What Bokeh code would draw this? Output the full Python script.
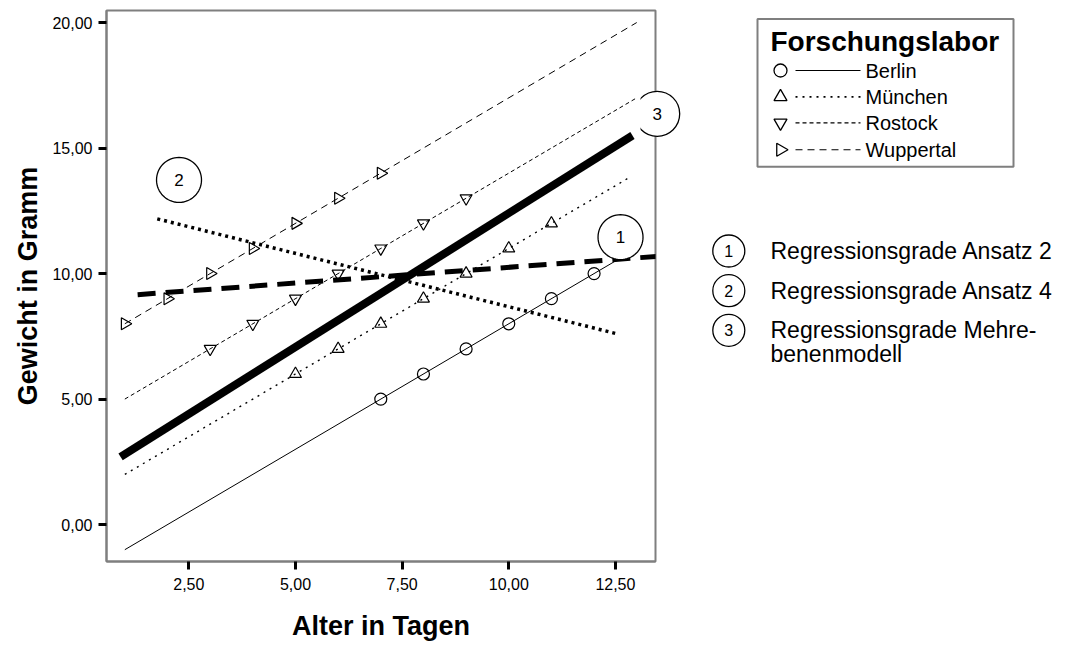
import math

from bokeh.core.properties import value
from bokeh.embed import file_html
from bokeh.layouts import row
from bokeh.models import CustomJSTickFormatter, FixedTicker, Label, PolyAnnotation, Range1d
from bokeh.plotting import figure
from bokeh.resources import INLINE

# ---- observations per research lab: age in days, weight in gram ----
berlin_age = [7, 8, 9, 10, 11, 12]
berlin_weight = [5, 6, 7, 8, 9, 10]
muenchen_age = [5, 6, 7, 8, 9, 10, 11]
muenchen_weight = [6, 7, 8, 9, 10, 11, 12]
rostock_age = [3, 4, 5, 6, 7, 8, 9]
rostock_weight = [7, 8, 9, 10, 11, 12, 13]
wuppertal_age = [1, 2, 3, 4, 5, 6, 7]
wuppertal_weight = [8, 9, 10, 11, 12, 13, 14]

# ---- fitted line of every lab (start / end) ----
berlin_fit_x = [1, 13]
berlin_fit_y = [-1, 11]
muenchen_fit_x = [1, 12.85]
muenchen_fit_y = [2, 13.85]
rostock_fit_x = [1, 13]
rostock_fit_y = [5, 17]
wuppertal_fit_x = [1, 13]
wuppertal_fit_y = [8, 20]

# ---- pooled regression lines (start / end) ----
ansatz2_x = [1.3, 13.6]
ansatz2_y = [9.16, 10.70]
ansatz4_x = [1.76, 12.54]
ansatz4_y = [12.18, 7.6]
mehrebenen_x = [0.9, 12.9]
mehrebenen_y = [2.7, 15.5]

# ---- tick positions ----
x_ticks = [2.5, 5.0, 7.5, 10.0, 12.5]
y_ticks = [0.0, 5.0, 10.0, 15.0, 20.0]

# ---- labels ----
lab_names = ["Berlin", "München", "Rostock", "Wuppertal"]
lab_markers = ["circle", "triangle", "inverted_triangle", "triangle"]
lab_angles = [0.0, 0.0, 0.0, -math.pi / 2]
lab_dashes = ["solid", "2 5", "4 3", "7 5"]
lab_widths = [1.0, 1.4, 1.0, 1.0]
note_numbers = ["1", "2", "3"]
note_texts = [
    ["Regressionsgrade Ansatz 2"],
    ["Regressionsgrade Ansatz 4"],
    ["Regressionsgrade Mehre-", "benenmodell"],
]
# numbered circles inside the chart (age, weight)
note_x = [12.62, 2.27]
note_y = [11.45, 13.73]

FONT = "Liberation Sans"
GREY = "#7f7f7f"

# ------------------------------------------------------------------ main chart
p = figure(
    width=700, height=649,
    x_range=Range1d(0.57, 13.44), y_range=Range1d(-1.47, 20.48),
    output_backend="svg", toolbar_location=None,
    min_border_left=106, min_border_right=45, min_border_top=10, min_border_bottom=88,
)
p.xgrid.visible = False
p.ygrid.visible = False
p.outline_line_color = GREY
p.outline_line_width = 2
p.background_fill_color = "white"
p.border_fill_color = "white"

fmt = CustomJSTickFormatter(code="return tick.toFixed(2).replace('.', ',');")
p.xaxis.ticker = FixedTicker(ticks=x_ticks)
p.yaxis.ticker = FixedTicker(ticks=y_ticks)
for ax in (p.xaxis, p.yaxis):
    ax.formatter = fmt
    ax.axis_line_color = GREY
    ax.axis_line_width = 2
    ax.major_tick_in = 0
    ax.major_tick_out = 8
    ax.major_tick_line_width = 3
    ax.major_tick_line_color = "black"
    ax.minor_tick_in = 0
    ax.minor_tick_out = 0
    ax.major_label_text_font = FONT
    ax.major_label_text_font_size = "16px"
    ax.major_label_text_color = "black"
    ax.axis_label_text_font = FONT
    ax.axis_label_text_font_size = "27px"
    ax.axis_label_text_font_style = "bold"
    ax.axis_label_text_color = "black"
p.xaxis.axis_label = "Alter in Tagen"
p.yaxis.axis_label = "Gewicht in Gramm"
p.xaxis.major_label_standoff = 8
p.xaxis.axis_label_standoff = 18
p.yaxis.major_label_standoff = 6
p.yaxis.axis_label_standoff = 6

# lab lines
fits = [
    (berlin_fit_x, berlin_fit_y),
    (muenchen_fit_x, muenchen_fit_y),
    (rostock_fit_x, rostock_fit_y),
    (wuppertal_fit_x, wuppertal_fit_y),
]
for (fx, fy), dash, lw in zip(fits, lab_dashes, lab_widths):
    p.line(fx, fy, line_color="black", line_width=lw, line_dash=dash)

# lab observations
obs = [
    (berlin_age, berlin_weight),
    (muenchen_age, muenchen_weight),
    (rostock_age, rostock_weight),
    (wuppertal_age, wuppertal_weight),
]
for (ox, oy), mk, ang in zip(obs, lab_markers, lab_angles):
    p.scatter(ox, oy, marker=mk, angle=ang, size=12, fill_color=None,
              line_color="black", line_width=1.2)

# pooled regression lines
p.line(ansatz4_x, ansatz4_y, line_color="black", line_width=3.5, line_dash="3 4")
p.line(ansatz2_x, ansatz2_y, line_color="black", line_width=5, line_dash="18 10")
p.line(mehrebenen_x, mehrebenen_y, line_color="black", line_width=8)

# numbered circles on the chart
PX_X = 42.67  # pixels per day
PX_Y = 25.1   # pixels per gram
R_PX = 22.5
for num, cx, cy in zip(note_numbers, note_x, note_y):
    xs = [cx + R_PX / PX_X * math.cos(2 * math.pi * k / 64) for k in range(64)]
    ys = [cy + R_PX / PX_Y * math.sin(2 * math.pi * k / 64) for k in range(64)]
    p.add_layout(PolyAnnotation(xs=xs, ys=ys, fill_color="white", fill_alpha=1.0,
                                line_color="black", line_alpha=1.0, line_width=1.3))
    p.add_layout(Label(x=cx, y=cy, text=num, text_align="center", text_baseline="middle",
                       text_font=FONT, text_font_size="17px", text_color="black"))

# ------------------------------------------------------------------ side panel
# it overlaps the right edge of the chart so that circle 3 can sit on the frame
q = figure(
    width=428, height=649,
    x_range=Range1d(640, 1068), y_range=Range1d(649, 0),
    output_backend="svg", toolbar_location=None,
    min_border=0, min_border_left=0, min_border_right=0,
    min_border_top=0, min_border_bottom=0,
    margin=(0, 0, 0, -60),
)
q.axis.visible = False
q.xgrid.visible = False
q.ygrid.visible = False
q.outline_line_color = None
q.background_fill_color = None
q.border_fill_color = None

# circle 3 at the end of the multilevel line
q.scatter(x=[656.7], y=[121.7], marker="circle", size=45, fill_color="white",
          line_color="black", line_width=1.3)
q.text(x=[656.7], y=[121.7], text=["3"], text_font=value(FONT),
       text_font_size=value("17px"), text_align="center", text_baseline="middle",
       text_color="black")

# legend frame
q.quad(left=[757], right=[1013], top=[10], bottom=[184], fill_color=None,
       line_color=GREY, line_width=2)
q.text(x=[770], y=[37], text=["Forschungslabor"], text_font=value(FONT),
       text_font_size=value("28px"), text_font_style="bold", text_baseline="middle",
       text_color="black")

row_y = [70.7, 101.7, 132.3, 164]
q.scatter(x=[780] * 4, y=row_y, marker=lab_markers, angle=lab_angles, size=13,
          fill_color=None, line_color="black", line_width=1.3)
for ry, dash, lw in zip(row_y, lab_dashes, lab_widths):
    q.line([795, 860], [ry, ry], line_color="black", line_width=lw + 0.2, line_dash=dash)
q.text(x=[865] * 4, y=row_y, text=lab_names, text_font=value(FONT),
       text_font_size=value("20px"), text_baseline="middle", text_color="black")

# numbered notes
note_row_y = [283.3, 330, 376.7]
q.scatter(x=[728.3] * 3, y=note_row_y, marker="circle", size=32, fill_color="white",
          line_color="black", line_width=1.3)
q.text(x=[728.3] * 3, y=note_row_y, text=["1", "2", "3"], text_font=value(FONT),
       text_font_size=value("16px"), text_align="center", text_baseline="middle",
       text_color="black")
for ny, lines in zip(note_row_y, note_texts):
    q.text(x=[770] * len(lines), y=[ny + 28 * i for i in range(len(lines))], text=lines,
           text_font=value(FONT), text_font_size=value("23px"), text_baseline="middle",
           text_color="black")

layout = row(p, q, spacing=0)
open("out.html", "w").write(file_html(layout, INLINE))
